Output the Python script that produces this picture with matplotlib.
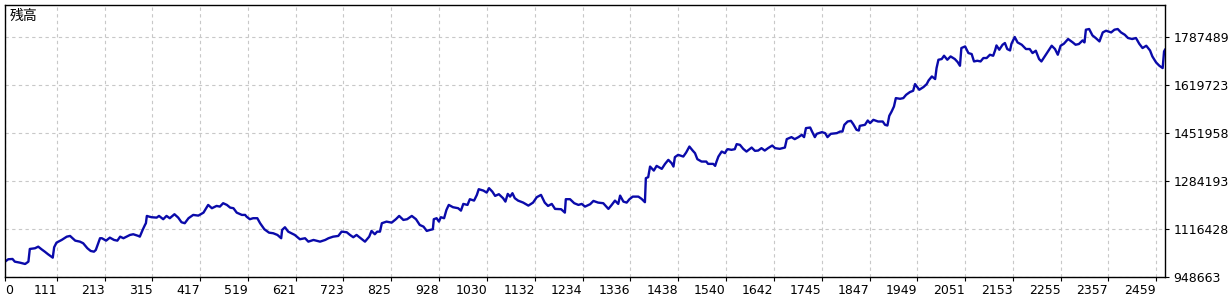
import numpy as np
import matplotlib
matplotlib.use('Agg')
from matplotlib import pyplot as plt

# trade number vs balance (in thousands)
trades = [
    0, 7, 16, 21, 32, 43, 50, 53, 64, 71, 78, 85, 92, 102, 105, 110, 121, 132, 139, 150,
    160, 167, 176, 183, 190, 194, 203, 207, 216, 224, 233, 240, 246, 253, 267, 274, 285, 288, 294, 299,
    301, 303, 308, 313, 324, 329, 338, 345, 352, 362, 370, 377, 384, 392, 402, 413, 424, 434, 442, 452,
    459, 466, 474, 481, 488, 495, 506, 513, 516, 523, 530, 539, 545, 554, 564, 573, 582, 590, 592, 598,
    605, 612, 619, 630, 641, 648, 659, 673, 684, 691, 701, 712, 719, 730, 737, 744, 751, 760, 769, 778,
    783, 790, 795, 801, 805, 815, 826, 835, 842, 851, 859, 869, 878, 886, 894, 901, 908, 914, 916, 922,
    927, 931, 938, 943, 948, 957, 968, 974, 979, 988, 993, 1002, 1008, 1012, 1022, 1029, 1034, 1041, 1047, 1055,
    1064, 1069, 1074, 1079, 1084, 1089, 1096, 1107, 1118, 1128, 1136, 1145, 1153, 1160, 1168, 1175, 1188, 1196, 1198, 1207,
    1216, 1225, 1232, 1237, 1239, 1250, 1257, 1267, 1278, 1289, 1296, 1303, 1310, 1314, 1321, 1328, 1334, 1341, 1353, 1360,
    1367, 1369, 1374, 1378, 1386, 1392, 1403, 1410, 1417, 1424, 1428, 1431, 1438, 1449, 1455, 1462, 1469, 1474, 1479, 1488,
    1498, 1502, 1513, 1517, 1520, 1524, 1531, 1538, 1542, 1544, 1552, 1559, 1563, 1570, 1577, 1584, 1595, 1602, 1609, 1616,
    1623, 1630, 1639, 1645, 1655, 1666, 1670, 1680, 1687, 1695, 1702, 1707, 1711, 1720, 1724, 1730, 1734, 1745, 1752, 1757,
    1764, 1777, 1784, 1789, 1793, 1800, 1807, 1812, 1819, 1824, 1826, 1837, 1843, 1848, 1855, 1865, 1875, 1880, 1885, 1889,
    1894, 1899, 1903, 1912, 1919, 1925, 1933, 1940, 1944, 1953, 1962, 1969, 1973, 1980, 1987, 1990, 1994, 2001, 2006, 2013,
    2020, 2029, 2035, 2040, 2043, 2051, 2058, 2065, 2070, 2077, 2084, 2090, 2097, 2104, 2111, 2115, 2118, 2124, 2131, 2136,
    2141, 2147, 2150, 2157, 2163, 2172, 2181, 2189, 2195, 2202, 2209, 2214, 2221, 2228, 2236, 2243, 2249, 2255, 2262, 2271,
    2281, 2287, 2294, 2302, 2306, 2309, 2316, 2323, 2330, 2338, 2345, 2352, 2363, 2370, 2377, 2384, 2392, 2399, 2408, 2416,
    2423, 2430, 2438, 2446, 2451, 2459, 2466, 2473, 2476, 2478,
]
balance_k = [
    1002.2, 1010.6, 1011.6, 1002.2, 998.7, 994.1, 1002.2, 1046.6, 1049.0, 1054.6, 1045.5, 1037.1, 1028.0, 1016.2, 1052.5, 1068.6, 1078.0, 1089.5, 1092.0, 1075.6,
    1072.1, 1066.5, 1049.0, 1039.6, 1037.1, 1043.1, 1084.0, 1084.0, 1075.6, 1086.1, 1078.0, 1075.6, 1089.5, 1084.0, 1095.5, 1097.9, 1092.0, 1089.5, 1113.0, 1130.4,
    1136.4, 1161.9, 1159.4, 1157.4, 1156.0, 1161.9, 1150.4, 1161.9, 1153.9, 1167.8, 1156.0, 1139.9, 1136.4, 1153.9, 1165.4, 1163.0, 1173.4, 1200.3, 1188.8, 1196.8,
    1194.4, 1206.3, 1200.3, 1190.9, 1188.8, 1173.4, 1165.4, 1165.4, 1159.4, 1150.4, 1153.9, 1153.9, 1136.4, 1115.4, 1103.5, 1101.4, 1095.5, 1084.0, 1113.0, 1122.4,
    1107.0, 1101.4, 1095.5, 1080.5, 1084.0, 1072.1, 1078.0, 1072.1, 1078.0, 1084.0, 1089.5, 1092.0, 1107.0, 1104.9, 1095.5, 1087.5, 1095.5, 1084.0, 1072.1, 1089.5,
    1109.5, 1097.9, 1107.0, 1107.0, 1136.4, 1142.0, 1138.5, 1150.4, 1161.9, 1147.9, 1150.4, 1161.9, 1150.4, 1130.4, 1124.5, 1109.5, 1113.0, 1115.4, 1150.4, 1153.9,
    1142.0, 1157.4, 1153.9, 1182.9, 1200.3, 1192.3, 1188.8, 1180.4, 1203.8, 1200.3, 1220.3, 1215.4, 1235.3, 1255.2, 1250.3, 1243.3, 1258.7, 1246.8, 1231.8, 1237.7,
    1223.8, 1211.9, 1238.8, 1229.3, 1241.2, 1223.8, 1215.4, 1208.4, 1197.9, 1208.4, 1227.3, 1235.3, 1208.4, 1196.8, 1203.8, 1186.4, 1185.3, 1173.4, 1220.3, 1220.3,
    1206.3, 1200.3, 1203.8, 1196.8, 1194.4, 1202.8, 1214.3, 1208.4, 1206.3, 1186.4, 1200.3, 1215.4, 1203.8, 1232.8, 1211.9, 1208.4, 1220.3, 1229.3, 1229.3, 1221.3,
    1209.8, 1293.7, 1297.2, 1334.2, 1320.2, 1336.6, 1326.2, 1343.6, 1357.6, 1346.1, 1334.2, 1367.1, 1375.1, 1369.2, 1383.1, 1404.1, 1390.1, 1381.0, 1360.1, 1351.7,
    1351.7, 1343.6, 1343.6, 1336.6, 1351.7, 1369.2, 1386.6, 1381.0, 1392.6, 1395.0, 1392.6, 1395.0, 1412.5, 1410.0, 1396.1, 1386.6, 1400.6, 1389.1, 1390.1, 1398.5,
    1390.1, 1398.5, 1407.6, 1398.5, 1396.1, 1400.6, 1430.0, 1437.0, 1430.0, 1437.0, 1445.0, 1437.0, 1468.4, 1470.5, 1456.5, 1437.0, 1448.5, 1454.4, 1450.9, 1437.0,
    1448.5, 1450.9, 1456.5, 1456.5, 1479.9, 1491.5, 1493.9, 1482.4, 1462.5, 1460.0, 1476.4, 1479.9, 1495.0, 1485.9, 1497.4, 1491.5, 1491.5, 1479.9, 1477.5, 1511.4,
    1526.4, 1543.9, 1573.2, 1570.8, 1573.2, 1584.8, 1594.2, 1598.8, 1622.2, 1602.3, 1611.7, 1622.2, 1634.8, 1648.8, 1639.7, 1678.1, 1707.1, 1709.6, 1721.1, 1707.1,
    1718.7, 1709.6, 1699.1, 1686.1, 1748.0, 1753.6, 1730.5, 1727.0, 1701.2, 1703.6, 1701.2, 1713.1, 1713.1, 1724.6, 1721.1, 1739.6, 1757.1, 1742.1, 1759.5, 1765.5,
    1744.5, 1739.6, 1763.0, 1786.5, 1767.6, 1759.5, 1744.5, 1744.5, 1730.5, 1738.6, 1709.6, 1701.2, 1718.7, 1736.1, 1756.0, 1744.5, 1724.6, 1756.0, 1763.0, 1779.5,
    1767.6, 1759.5, 1762.0, 1774.6, 1767.6, 1812.0, 1814.4, 1792.1, 1783.0, 1771.1, 1802.5, 1808.5, 1802.5, 1812.0, 1814.4, 1802.5, 1794.5, 1783.0, 1779.5, 1783.0,
    1763.0, 1748.0, 1756.0, 1739.6, 1718.7, 1697.7, 1686.1, 1678.1, 1736.1, 1742.1,
]

x_ticks = [0, 111, 213, 315, 417, 519, 621, 723, 825, 928, 1030, 1132, 1234, 1336,
           1438, 1540, 1642, 1745, 1847, 1949, 2051, 2153, 2255, 2357, 2459]
y_ticks = [948663, 1116428, 1284193, 1451958, 1619723, 1787489]
title = "残高"

plt.rcParams['font.family'] = ['DejaVu Sans', 'Noto Sans CJK JP']

fig = plt.figure(figsize=(12.3, 3.0), dpi=100)
ax = fig.add_axes([5 / 1230, 23 / 300, 1160 / 1230, 272.5 / 300])

balance = np.array(balance_k) * 1000
ax.plot(trades, balance, color='#0a0aaa', linewidth=1.7)

ax.set_xlim(0, 2478)
ax.set_ylim(948663, 1900000)

ax.set_xticks(x_ticks)
ax.set_xticklabels([str(t) for t in x_ticks])
ax.set_yticks(y_ticks)
ax.set_yticklabels([str(v) for v in y_ticks])
ax.yaxis.tick_right()

ax.tick_params(axis='both', direction='out', length=3, width=0.8, labelsize=9, colors='black')
ax.tick_params(axis='x', pad=2)
ax.tick_params(axis='y', pad=3)
for lbl in ax.get_xticklabels():
    lbl.set_horizontalalignment('right')
ax.get_xticklabels()[0].set_horizontalalignment('left')

ax.grid(True, color='#c8c8c8', linestyle=(0, (3, 3)), linewidth=0.8)
ax.set_axisbelow(True)
for s in ax.spines.values():
    s.set_linewidth(1.0)
    s.set_color('black')

ax.text(0.004, 0.985, title, transform=ax.transAxes, ha='left', va='top',
        fontsize=10, family=['Noto Sans CJK JP', 'DejaVu Sans'])

fig.savefig('out.png', dpi=100)
